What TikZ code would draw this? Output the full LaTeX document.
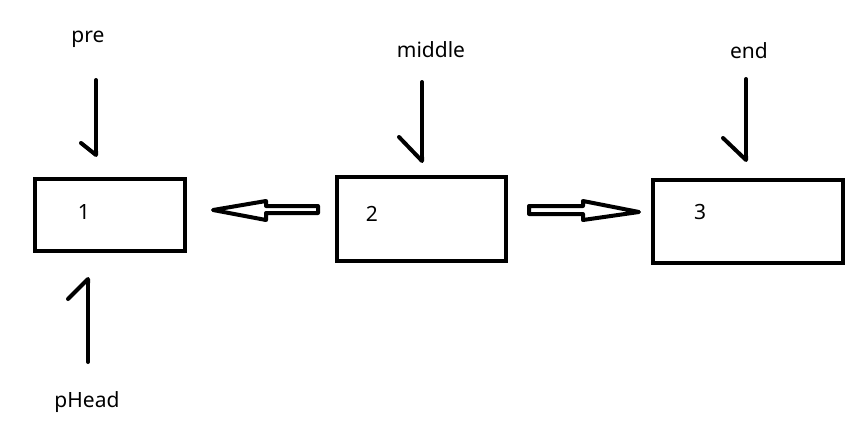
\documentclass[tikz,border=0pt]{standalone}
\usepackage{fontspec}
\setmainfont{Noto Sans}
\usetikzlibrary{arrows.meta}
\tikzset{
  box/.style={draw, line width=4pt, rectangle, inner sep=0pt, outer sep=0pt},
  tag/.style={font=\fontsize{21}{25}\selectfont, inner sep=0pt, anchor=base},
  num/.style={font=\fontsize{21}{25}\selectfont, inner sep=0pt},
  ptr/.style={line width=4pt, line cap=round, line join=round},
  fat/.style={line width=4pt, line join=round, fill=white}
}
\begin{document}
\begin{tikzpicture}[x=1pt, y=-1pt]
            \fill[white] (0, 0) rectangle (867, 432);
            \useasboundingbox (0, 0) rectangle (867, 432);

            % boxes
            \node[box, minimum width=150pt, minimum height=72pt] (b1) at (110, 215) {};
            \node[box, minimum width=169pt, minimum height=84pt] (b2) at (421.5, 219) {};
            \node[box, minimum width=190pt, minimum height=83pt] (b3) at (748, 221.5) {};
            \node[num] (n1) at ([xshift=49pt, yshift=3pt]b1.west) {1};
            \node[num] (n2) at ([xshift=35pt, yshift=5pt]b2.west) {2};
            \node[num] (n3) at ([xshift=47pt, yshift=9.5pt]b3.west) {3};

            % pointer names
            \node[tag] (pre) at (88, 42) {pre};
            \node[tag] (middle) at (431, 57) {middle};
            \node[tag] (end) at (749, 58) {end};
            \node[tag] (phead) at (87, 407) {pHead};

            % pointer tails
            \coordinate (pre-t) at (96, 80);
            \coordinate (middle-t) at (422, 82);
            \coordinate (end-t) at (746, 79);
            \coordinate (phead-t) at (88, 362);

            % pointers
            \draw[ptr, -{Straight Barb[right, round, length=12pt, width=30pt]}, shorten >=22pt] (pre-t) -- (b1.north -| pre-t);
            \draw[ptr, -{Straight Barb[right, round, length=24pt, width=46pt]}, shorten >=14pt] (middle-t) -- (b2.north -| middle-t);
            \draw[ptr, -{Straight Barb[right, round, length=22pt, width=46pt]}, shorten >=18pt] (end-t) -- (b3.north -| end-t);
            \draw[ptr, -{Straight Barb[left, round, length=20pt, width=40pt]}, shorten >=26pt] (phead-t) -- (b1.south -| phead-t);

            % fat arrows
            \draw[fat] (318, 206) -- (266, 206) -- (266, 201) -- (213, 210) -- (266, 220) -- (266, 213) -- (318, 213) -- cycle;
            \draw[fat] (529, 206) -- (583, 206) -- (583, 201) -- (639, 212) -- (583, 220) -- (583, 214) -- (529, 214) -- cycle;
        \end{tikzpicture}
\end{document}
